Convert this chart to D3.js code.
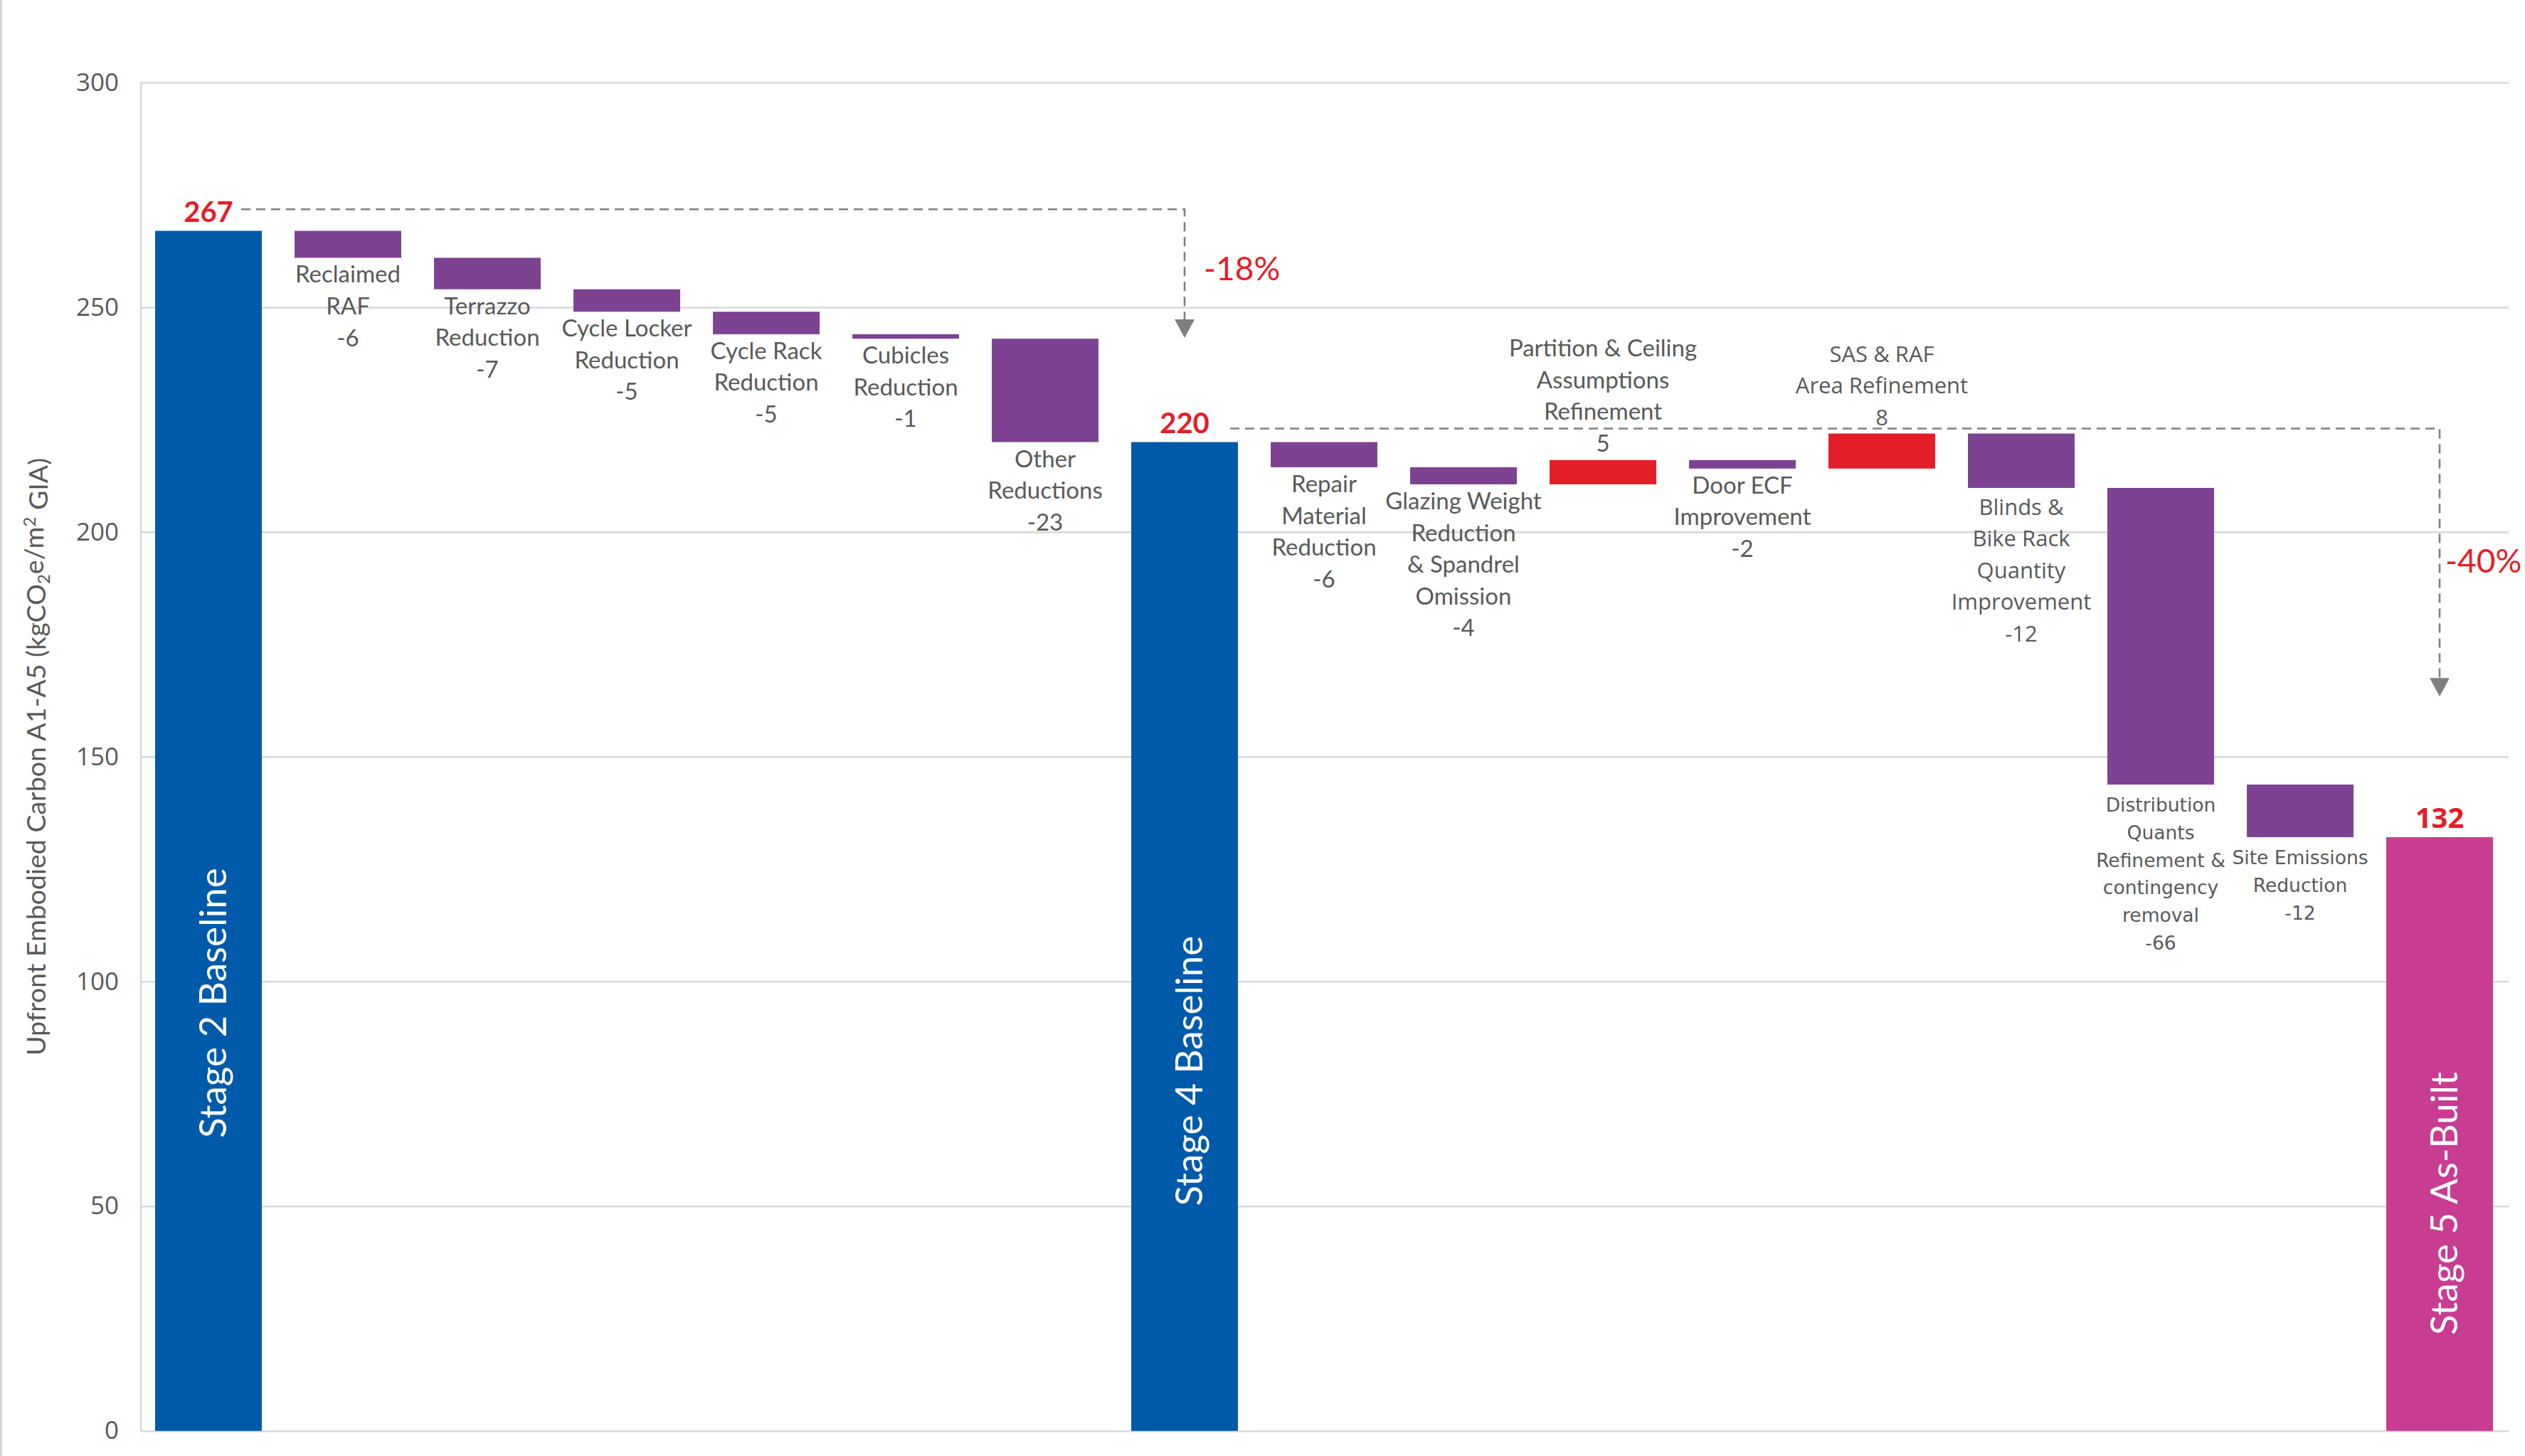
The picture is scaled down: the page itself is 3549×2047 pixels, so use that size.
<!DOCTYPE html>
<html>
<head>
<meta charset="utf-8">
<script src="https://cdn.jsdelivr.net/npm/d3@7"></script>
<style>
  html, body { margin: 0; padding: 0; background: #ffffff; }
  svg { display: block; }
</style>
</head>
<body>
<svg id="chart" width="3549" height="2047"></svg>
<script>
// ---------------- DATA ----------------
const categories = [
  "Stage 2 Baseline", "Reclaimed RAF", "Terrazzo Reduction", "Cycle Locker Reduction",
  "Cycle Rack Reduction", "Cubicles Reduction", "Other Reductions", "Stage 4 Baseline",
  "Repair Material Reduction", "Glazing Weight Reduction & Spandrel Omission",
  "Partition & Ceiling Assumptions Refinement", "Door ECF Improvement",
  "SAS & RAF Area Refinement", "Blinds & Bike Rack Quantity Improvement",
  "Distribution Quants Refinement & contingency removal", "Site Emissions Reduction",
  "Stage 5 As-Built"
];
// "total" bars start from zero, "delta" bars float from the running total
const kinds = ["total","delta","delta","delta","delta","delta","delta","total",
               "delta","delta","delta","delta","delta","delta","delta","delta","total"];
const values = [267, -6, -7, -5, -5, -1, -23, 220,
                -5.6, -3.8, 5.4, -1.9, 7.8, -12.1, -66.0, -11.7, 132.1];
const labelLines = [
  ["Stage 2 Baseline"],
  ["Reclaimed", "RAF"],
  ["Terrazzo", "Reduction"],
  ["Cycle Locker", "Reduction"],
  ["Cycle Rack", "Reduction"],
  ["Cubicles", "Reduction"],
  ["Other", "Reductions"],
  ["Stage 4 Baseline"],
  ["Repair", "Material", "Reduction"],
  ["Glazing Weight", "Reduction", "& Spandrel", "Omission"],
  ["Partition & Ceiling", "Assumptions", "Refinement"],
  ["Door ECF", "Improvement"],
  ["SAS & RAF", "Area Refinement"],
  ["Blinds &", "Bike Rack", "Quantity", "Improvement"],
  ["Distribution", "Quants", "Refinement &", "contingency", "removal"],
  ["Site Emissions", "Reduction"],
  ["Stage 5 As-Built"]
];
const labelStyleKeys = [null,"cal","cal","cal","cal","cal","cal",null,
                        "cal","cal","cal","cal","seg","seg","ver","ver",null];
// level (value) at which the white stage title is centred inside total bars
const stageLabelCentre = [95.2, null, null, null, null, null, null, 80.1,
                          null, null, null, null, null, null, null, null, 50.6];
const yTicks = [0, 50, 100, 150, 200, 250, 300];
// percentage-change annotations: from/to bar index, dashed level, arrow tip level, label
const annotations = [
  {from: 0, to: 7, level: 271.8, tip: 243.2, text: "-18%", textLevel: 256, startGap: 46, textGap: 27},
  {from: 7, to: 16, level: 223.0, tip: 163.4, text: "-40%", textLevel: 191, startGap: 64, textGap: 8}
];

// ---------------- STYLE ----------------
const colors = {
  blue: "#005AAA", magenta: "#C83C91", purple: "#7D4292", red: "#E41E28",
  grid: "#D9D9D9", text: "#595959", dash: "#7F7F7F"
};
const totalColors = {0: colors.blue, 7: colors.blue, 16: colors.magenta};
const labelStyles = {
  cal: {family: "Lato, sans-serif", size: 33, lh: 44.6, below: 35},
  seg: {family: "'Open Sans', sans-serif", size: 31, lh: 44.5, below: 38},
  ver: {family: "'DejaVu Sans', sans-serif", size: 26.5, lh: 38.8, below: 38}
};

// ---------------- SCALES ----------------
const svg = d3.select("#chart");
const plotLeft = 198, plotRight = 3526;
const y = d3.scaleLinear().domain([0, 300]).range([2011.7, 116]);
const x = d3.scaleBand().domain(categories).range([195, 3527])
  .paddingInner(0.235).paddingOuter(0.1175);

// compute bar extents
let running = 0;
const bars = categories.map((c, i) => {
  let lo, hi;
  if (kinds[i] === "total") { lo = 0; hi = values[i]; running = values[i]; }
  else { const s = running; const e = running + values[i]; lo = Math.min(s, e); hi = Math.max(s, e); running = e; }
  return {c, i, lo, hi, v: values[i], kind: kinds[i]};
});

svg.append("rect").attr("width", 3549).attr("height", 2047).attr("fill", "#fff");
// outer chart border (left edge)
svg.append("line").attr("x1", 1.5).attr("x2", 1.5).attr("y1", 0).attr("y2", 2047)
  .attr("stroke", colors.grid).attr("stroke-width", 3);

// ---------------- AXIS & GRID ----------------
const axis = svg.append("g").attr("transform", `translate(${plotLeft},0)`)
  .call(d3.axisLeft(y).tickValues(yTicks).tickSizeInner(-(plotRight - plotLeft))
        .tickSizeOuter(0).tickPadding(31));
axis.select(".domain").remove();
axis.selectAll(".tick line").attr("stroke", colors.grid).attr("stroke-width", 2.6);
axis.selectAll(".tick text").attr("fill", colors.text)
  .style("font-family", "'Open Sans', sans-serif").style("font-size", "35px");
svg.append("line").attr("x1", plotLeft).attr("x2", plotLeft)
  .attr("y1", y(0)).attr("y2", y(300)).attr("stroke", colors.grid).attr("stroke-width", 2.6);

// y-axis title
const yt = svg.append("text")
  .attr("transform", `translate(64,${y(150)}) rotate(-90)`)
  .attr("text-anchor", "middle").attr("fill", colors.text)
  .style("font-family", "Lato, sans-serif").style("font-size", "37.5px");
yt.append("tspan").text("Upfront Embodied Carbon A1-A5 (kgCO");
yt.append("tspan").text("2").attr("dy", "0.25em").style("font-size", "24px");
yt.append("tspan").text("e/m").attr("dy", "-0.25em");
yt.append("tspan").text("2").attr("dy", "-0.45em").style("font-size", "24px");
yt.append("tspan").text(" GIA)").attr("dy", "0.45em");

// ---------------- BARS ----------------
svg.append("g").selectAll("rect").data(bars).join("rect")
  .attr("x", d => x(d.c)).attr("width", x.bandwidth())
  .attr("y", d => y(d.hi)).attr("height", d => Math.max(1, y(d.lo) - y(d.hi)))
  .attr("fill", d => d.kind === "total" ? totalColors[d.i] : (d.v < 0 ? colors.purple : colors.red));

// ---------------- LABELS ----------------
const cx = c => x(c) + x.bandwidth() / 2;
bars.forEach(d => {
  if (d.kind === "total") {
    // stage title inside bar
    svg.append("text")
      .attr("transform", `translate(${cx(d.c) + 25},${y(stageLabelCentre[d.i])}) rotate(-90)`)
      .attr("text-anchor", "middle").attr("fill", "#ffffff")
      .style("font-family", "Lato, sans-serif").style("font-size", "53px")
      .text(labelLines[d.i][0]);
    // value on top
    const isLast = d.i === categories.length - 1;
    svg.append("text")
      .attr("x", cx(d.c)).attr("y", y(d.hi) - 13)
      .attr("text-anchor", "middle").attr("fill", colors.red)
      .style("font-family", isLast ? "'Open Sans', sans-serif" : "Lato, sans-serif")
      .style("font-weight", 700).style("font-size", "40px")
      .text(Math.round(d.v));
    return;
  }
  const st = labelStyles[labelStyleKeys[d.i]];
  const lines = labelLines[d.i].concat([String(Math.round(d.v))]);
  let first;
  if (d.v < 0) first = y(d.lo) + st.below;
  else first = y(d.hi) - 12 - (lines.length - 1) * st.lh;
  const t = svg.append("text").attr("text-anchor", "middle").attr("fill", colors.text)
    .style("font-family", st.family).style("font-size", st.size + "px");
  lines.forEach((ln, k) => {
    t.append("tspan").attr("x", cx(d.c)).attr("y", first + k * st.lh).text(ln);
  });
});

// ---------------- ANNOTATIONS ----------------
annotations.forEach(a => {
  const x0 = cx(categories[a.from]) + a.startGap;
  const x1 = cx(categories[a.to]);
  const yl = y(a.level), yTip = y(a.tip);
  svg.append("path")
    .attr("d", `M${x0},${yl} H${x1} V${yTip - 26}`)
    .attr("fill", "none").attr("stroke", colors.dash).attr("stroke-width", 2.6)
    .attr("stroke-dasharray", "13,8");
  svg.append("path")
    .attr("d", `M${x1 - 14},${yTip - 26} L${x1 + 14},${yTip - 26} L${x1},${yTip} Z`)
    .attr("fill", colors.dash);
  svg.append("text")
    .attr("x", x1 + a.textGap).attr("y", y(a.textLevel))
    .attr("fill", colors.red)
    .style("font-family", "Lato, sans-serif").style("font-size", "46px")
    .text(a.text);
});
</script>
</body>
</html>
